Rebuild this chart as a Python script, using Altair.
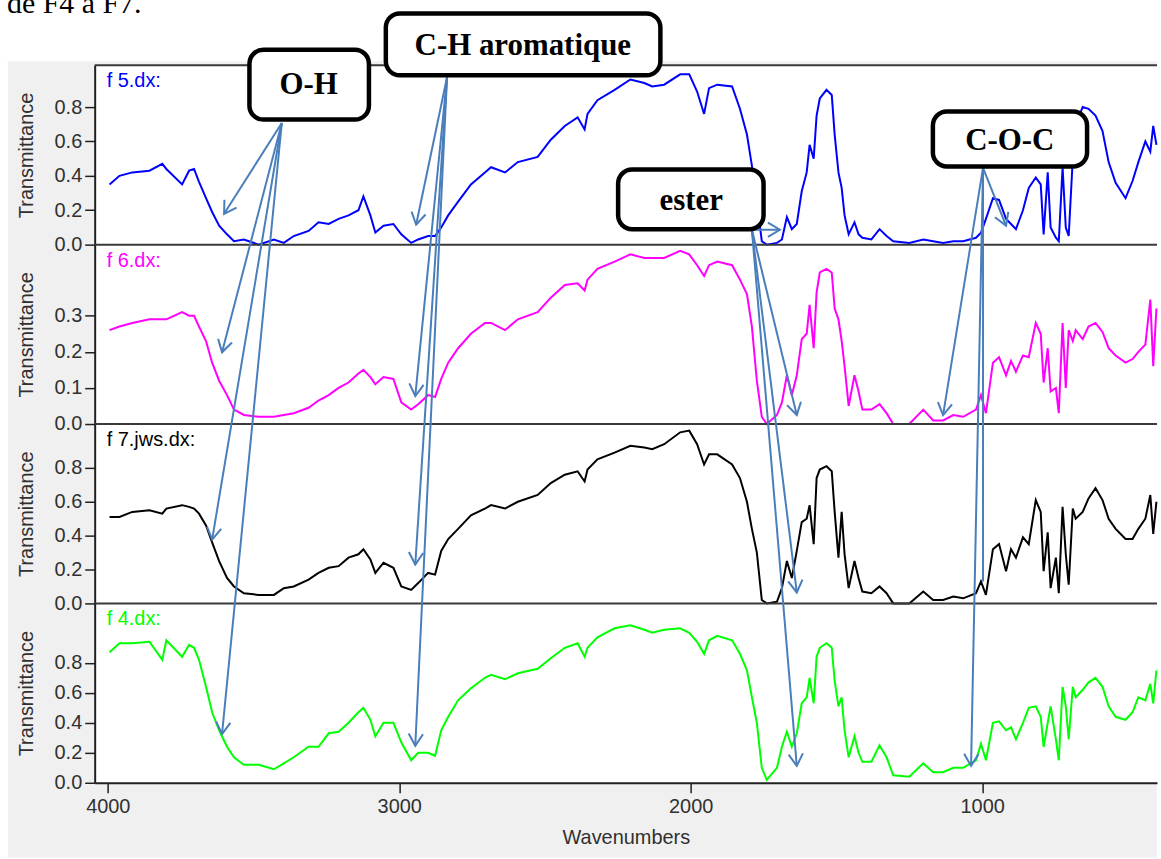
import math
import altair as alt
import pandas as pd

# ---------------- data ----------------
WAVENUMBER = [3994, 3960, 3916, 3857, 3813, 3799, 3745, 3721, 3704, 3687,
              3663, 3642, 3618, 3591, 3567, 3533, 3482, 3430, 3396, 3362,
              3311, 3277, 3242, 3208, 3174, 3140, 3123, 3099, 3082, 3054,
              3020, 2993, 2959, 2935, 2901, 2877, 2856, 2832, 2798, 2754,
              2706, 2685, 2637, 2593, 2525, 2480, 2432, 2388, 2364, 2354,
              2320, 2261, 2207, 2159, 2132, 2091, 2036, 2005, 1978, 1954,
              1937, 1909, 1858, 1831, 1807, 1790, 1773, 1756, 1739, 1704,
              1687, 1670, 1653, 1636, 1619, 1602, 1592, 1578, 1568, 1557,
              1534, 1516, 1506, 1493, 1482, 1472, 1458, 1438, 1424, 1411,
              1380, 1352, 1328, 1305, 1250, 1202, 1168, 1134, 1099, 1065,
              1021, 1004, 987, 963, 942, 918, 901, 884, 860, 840,
              816, 799, 789, 775, 765, 747, 737, 724, 713, 703,
              689, 679, 655, 635, 611, 587, 566, 542, 508, 484,
              464, 440, 423, 413, 402]

F5 = [0.35, 0.40, 0.42, 0.43, 0.47, 0.44, 0.35, 0.43, 0.44, 0.365,
      0.27, 0.19, 0.11, 0.06, 0.02, 0.03, 0.00, 0.03, 0.01, 0.05,
      0.08, 0.13, 0.12, 0.15, 0.17, 0.20, 0.28, 0.17, 0.07, 0.11,
      0.12, 0.06, 0.01, 0.03, 0.05, 0.05, 0.10, 0.17, 0.25, 0.35,
      0.42, 0.45, 0.42, 0.48, 0.51, 0.61, 0.69, 0.74, 0.67, 0.76,
      0.84, 0.90, 0.96, 0.94, 0.92, 0.93, 0.99, 0.99, 0.89, 0.76,
      0.91, 0.93, 0.92, 0.79, 0.64, 0.46, 0.25, 0.02, 0.00, 0.01,
      0.03, 0.16, 0.09, 0.12, 0.31, 0.42, 0.58, 0.50, 0.75, 0.85,
      0.90, 0.87, 0.64, 0.42, 0.33, 0.17, 0.06, 0.13, 0.06, 0.04,
      0.03, 0.09, 0.05, 0.02, 0.01, 0.03, 0.02, 0.01, 0.02, 0.02,
      0.04, 0.07, 0.15, 0.27, 0.26, 0.15, 0.12, 0.09, 0.20, 0.33,
      0.39, 0.35, 0.06, 0.42, 0.10, 0.04, 0.02, 0.45, 0.10, 0.05,
      0.50, 0.70, 0.80, 0.79, 0.75, 0.66, 0.48, 0.36, 0.27, 0.37,
      0.48, 0.60, 0.54, 0.69, 0.58]

F6 = [0.26, 0.27, 0.28, 0.29, 0.29, 0.29, 0.31, 0.30, 0.30, 0.27,
      0.23, 0.17, 0.12, 0.08, 0.04, 0.025, 0.02, 0.02, 0.025, 0.03,
      0.045, 0.065, 0.08, 0.10, 0.115, 0.14, 0.15, 0.13, 0.11, 0.13,
      0.125, 0.06, 0.04, 0.055, 0.08, 0.075, 0.125, 0.17, 0.21, 0.25,
      0.28, 0.28, 0.26, 0.29, 0.31, 0.35, 0.385, 0.39, 0.37, 0.40,
      0.43, 0.45, 0.47, 0.46, 0.46, 0.46, 0.48, 0.47, 0.44, 0.41,
      0.44, 0.45, 0.44, 0.40, 0.36, 0.27, 0.12, 0.02, 0.00, 0.025,
      0.06, 0.135, 0.08, 0.135, 0.235, 0.25, 0.33, 0.21, 0.365, 0.42,
      0.43, 0.42, 0.32, 0.29, 0.23, 0.16, 0.05, 0.135, 0.09, 0.04,
      0.04, 0.055, 0.03, 0.00, 0.00, 0.04, 0.01, 0.01, 0.025, 0.02,
      0.04, 0.08, 0.03, 0.17, 0.185, 0.135, 0.175, 0.145, 0.19, 0.185,
      0.28, 0.25, 0.115, 0.21, 0.09, 0.10, 0.03, 0.28, 0.10, 0.26,
      0.23, 0.26, 0.235, 0.27, 0.28, 0.255, 0.21, 0.19, 0.17, 0.18,
      0.20, 0.22, 0.345, 0.16, 0.32]

F7 = [0.51, 0.51, 0.54, 0.55, 0.53, 0.56, 0.58, 0.57, 0.56, 0.53,
      0.46, 0.36, 0.25, 0.15, 0.10, 0.06, 0.05, 0.05, 0.09, 0.10,
      0.14, 0.18, 0.21, 0.22, 0.27, 0.29, 0.32, 0.26, 0.18, 0.24,
      0.21, 0.10, 0.08, 0.12, 0.18, 0.17, 0.31, 0.38, 0.44, 0.52,
      0.56, 0.58, 0.56, 0.60, 0.64, 0.71, 0.76, 0.78, 0.72, 0.79,
      0.85, 0.89, 0.93, 0.92, 0.91, 0.94, 1.01, 1.02, 0.94, 0.82,
      0.88, 0.88, 0.82, 0.74, 0.60, 0.44, 0.30, 0.02, 0.00, 0.01,
      0.09, 0.25, 0.15, 0.31, 0.48, 0.50, 0.58, 0.35, 0.74, 0.79,
      0.81, 0.78, 0.54, 0.27, 0.54, 0.29, 0.09, 0.25, 0.15, 0.07,
      0.06, 0.10, 0.06, 0.00, 0.00, 0.07, 0.02, 0.02, 0.04, 0.03,
      0.06, 0.13, 0.05, 0.32, 0.35, 0.19, 0.32, 0.27, 0.39, 0.35,
      0.61, 0.54, 0.19, 0.42, 0.09, 0.27, 0.06, 0.57, 0.29, 0.11,
      0.56, 0.50, 0.54, 0.62, 0.68, 0.61, 0.50, 0.44, 0.38, 0.38,
      0.44, 0.50, 0.64, 0.41, 0.60]

F4 = [0.87, 0.93, 0.93, 0.94, 0.82, 0.95, 0.84, 0.92, 0.90, 0.82,
      0.64, 0.47, 0.35, 0.24, 0.17, 0.12, 0.12, 0.09, 0.13, 0.17,
      0.24, 0.24, 0.33, 0.34, 0.40, 0.47, 0.50, 0.42, 0.31, 0.40,
      0.40, 0.27, 0.15, 0.20, 0.20, 0.18, 0.35, 0.44, 0.55, 0.63,
      0.70, 0.72, 0.69, 0.73, 0.76, 0.83, 0.90, 0.93, 0.84, 0.90,
      0.97, 1.03, 1.05, 1.02, 1.00, 1.02, 1.03, 1.00, 0.94, 0.86,
      0.95, 0.98, 0.95, 0.86, 0.75, 0.57, 0.40, 0.10, 0.02, 0.10,
      0.24, 0.34, 0.24, 0.33, 0.53, 0.57, 0.70, 0.53, 0.84, 0.90,
      0.93, 0.90, 0.68, 0.51, 0.57, 0.35, 0.17, 0.31, 0.20, 0.14,
      0.14, 0.25, 0.17, 0.05, 0.04, 0.13, 0.07, 0.07, 0.10, 0.10,
      0.15, 0.26, 0.15, 0.40, 0.41, 0.35, 0.37, 0.29, 0.40, 0.50,
      0.51, 0.44, 0.24, 0.40, 0.51, 0.29, 0.15, 0.64, 0.51, 0.29,
      0.64, 0.57, 0.62, 0.67, 0.70, 0.64, 0.51, 0.44, 0.42, 0.47,
      0.57, 0.55, 0.66, 0.53, 0.75]

SERIES_VALUES = [F5, F6, F7, F4]
PANEL_NAMES = ["f 5.dx:", "f 6.dx:", "f 7.jws.dx:", "f 4.dx:"]
PANEL_COLORS = ["#0000ff", "#ff00ff", "#000000", "#00ff00"]
PANEL_YMAX = [1.043, 0.497, 1.059, 1.196]
PANEL_TICKS = [[0, 0.2, 0.4, 0.6, 0.8], [0, 0.1, 0.2, 0.3],
               [0, 0.2, 0.4, 0.6, 0.8], [0, 0.2, 0.4, 0.6, 0.8]]
X_TICKS = [4000, 3000, 2000, 1000]
CAPTION = "de F4 à F7."

# annotation boxes (wavenumber, position in panel-stack units: 0 = bottom of last panel, 4 = top of first)
BOX_LABELS = ["O-H", "C-H aromatique", "ester", "C-O-C"]
BOX_WN1 = [3514, 3046, 2249, 1169]
BOX_WN2 = [3104, 2104, 1750, 640]
BOX_S1 = [4.086, 4.289, 3.419, 3.742]
BOX_S2 = [3.697, 3.944, 3.086, 3.436]
LABEL_WN = [3311, 2576, 1998, 905]
LABEL_S = [3.889, 4.106, 3.244, 3.578]

ARROW_SRC_WN = [3403, 2836, 1790, 997]
ARROW_SRC_S = [3.678, 3.933, 3.083, 3.428]
ARROW_BOX = [0, 0, 0, 0, 1, 1, 1, 1, 2, 2, 2, 2, 3, 3, 3, 3]
ARROW_TO_WN = [3601, 3608, 3642, 3608, 2942, 2945, 2945, 2945,
               1694, 1636, 1636, 1636, 918, 1134, 997, 1038]
ARROW_TO_S = [3.172, 2.400, 1.356, 0.272, 3.111, 2.156, 1.217, 0.206,
              3.083, 2.050, 1.061, 0.094, 3.106, 2.050, 1.122, 0.094]
ARROW_HEAD = [1, 1, 1, 1, 1, 1, 1, 1, 1, 1, 1, 1, 1, 1, 0, 1]

# ---------------- layout / style ----------------
WN_LEFT, WN_RIGHT = 4045, 400
PLOT_W, PANEL_H = 1066, 180
AXIS_FONT = "Liberation Sans"
TEXT_COLOR = "#303030"
BORDER = "#3a3a3a"
GRAY = "#f0f0f0"
ARROW_COLOR = "#4a7ebb"
HEAD_PATH = "M -0.6 1 L 0 0 L 0.6 1"

xscale = alt.Scale(domain=[WN_LEFT, WN_RIGHT], nice=False, zero=False)
one = pd.DataFrame({"k": [0]})


def yscale(i):
    return alt.Scale(domain=[0, PANEL_YMAX[i]], nice=False, zero=False)


def yaxis(i):
    return alt.Axis(values=PANEL_TICKS[i], format=".1f", title="Transmittance",
                    titleFont=AXIS_FONT, titleFontSize=20, titleFontWeight="normal",
                    titleColor=TEXT_COLOR, titleX=-62, titleBaseline="alphabetic",
                    labelFont=AXIS_FONT, labelFontSize=20, labelColor=TEXT_COLOR,
                    labelPadding=3, labelFlush=False, labelOverlap=False,
                    tickSize=10, tickColor="#202020", tickWidth=1.5,
                    domainColor="#202020", domainWidth=2, grid=False, zindex=1)


xaxis = alt.Axis(values=X_TICKS, format="d", title="Wavenumbers",
                 titleFont=AXIS_FONT, titleFontSize=20, titleFontWeight="normal",
                 titleColor=TEXT_COLOR, titleY=61, titleBaseline="alphabetic",
                 labelFont=AXIS_FONT, labelFontSize=20, labelColor=TEXT_COLOR,
                 labelPadding=4, labelFlush=False, labelOverlap=False,
                 tickSize=10, tickColor="#202020", tickWidth=1.5,
                 domainColor="#202020", domainWidth=2, grid=False, zindex=1)

# annotation tables (expressed in units of the last panel's y scale)
S2T = PANEL_YMAX[3]
px_per_wn = PLOT_W / (WN_LEFT - WN_RIGHT)

arrows = pd.DataFrame({
    "wn": [ARROW_SRC_WN[b] for b in ARROW_BOX],
    "t": [ARROW_SRC_S[b] * S2T for b in ARROW_BOX],
    "wn2": ARROW_TO_WN,
    "t2": [s * S2T for s in ARROW_TO_S],
})
angles = []
for b, w1, s1 in zip(ARROW_BOX, ARROW_TO_WN, ARROW_TO_S):
    dx = (ARROW_SRC_WN[b] - w1) * px_per_wn
    dy = (ARROW_SRC_S[b] - s1) * PANEL_H
    angles.append(math.degrees(math.atan2(dx, -dy)) % 360)
heads = pd.DataFrame({"wn": ARROW_TO_WN, "t": [s * S2T for s in ARROW_TO_S],
                      "angle": angles, "show": ARROW_HEAD})
heads = heads[heads["show"] == 1]

boxes = pd.DataFrame({"wn": BOX_WN1, "wn2": BOX_WN2,
                      "t": [s * S2T for s in BOX_S1], "t2": [s * S2T for s in BOX_S2]})
labels = pd.DataFrame({"wn": LABEL_WN, "t": [s * S2T for s in LABEL_S], "label": BOX_LABELS})


def panel(i):
    df = pd.DataFrame({"wn": WAVENUMBER, "t": SERIES_VALUES[i]})
    x = alt.X("wn:Q", scale=xscale, axis=xaxis if i == 3 else None)
    y = alt.Y("t:Q", scale=yscale(i), axis=yaxis(i))
    layers = []
    if i == 0:
        layers += [
            alt.Chart(one).mark_rect(color=GRAY).encode(
                x=alt.value(-95), x2=alt.value(PLOT_W), y=alt.value(-84), y2=alt.value(795)),
            alt.Chart(one).mark_rect(color="white").encode(
                x=alt.value(-95), x2=alt.value(PLOT_W), y=alt.value(-84), y2=alt.value(-4)),
            alt.Chart(one).mark_rect(color="white").encode(
                x=alt.value(-95), x2=alt.value(-87), y=alt.value(-4), y2=alt.value(795)),
            alt.Chart(one).mark_rect(color="white").encode(
                x=alt.value(0), x2=alt.value(PLOT_W), y=alt.value(0), y2=alt.value(4 * PANEL_H)),
            alt.Chart(pd.DataFrame({"c": [CAPTION]})).mark_text(
                font="Liberation Serif", fontSize=30, align="left", baseline="alphabetic",
                color="black").encode(text="c:N", x=alt.value(-88), y=alt.value(-52)),
        ]
    line = alt.Chart(df).mark_line(color=PANEL_COLORS[i], strokeWidth=2).encode(x=x, y=y)
    top = alt.Chart(one).mark_rule(color=BORDER, strokeWidth=2).encode(
        x=alt.value(0), x2=alt.value(PLOT_W), y=alt.value(0))
    name = alt.Chart(pd.DataFrame({"n": [PANEL_NAMES[i]]})).mark_text(
        font=AXIS_FONT, fontSize=20, align="left", baseline="alphabetic",
        color=PANEL_COLORS[i]).encode(text="n:N", x=alt.value(12), y=alt.value(22))
    layers += [line, top, name]
    if i == 3:
        # same scales and axes as the spectrum so the shared axes merge cleanly
        ax = alt.X("wn:Q", scale=xscale, axis=xaxis)
        ay = alt.Y("t:Q", scale=yscale(3), axis=yaxis(3))
        layers += [
            alt.Chart(arrows).mark_rule(color=ARROW_COLOR, strokeWidth=2).encode(
                x=ax, y=ay, x2="wn2:Q", y2="t2:Q"),
            alt.Chart(heads).mark_point(shape=HEAD_PATH, filled=False, size=576,
                                        strokeWidth=2, color=ARROW_COLOR, opacity=1).encode(
                x=ax, y=ay, angle=alt.Angle("angle:Q", scale=None)),
            alt.Chart(boxes).mark_rect(fill="white", stroke="black", strokeWidth=4.5,
                                       cornerRadius=14).encode(
                x=ax, y=ay, x2="wn2:Q", y2="t2:Q"),
            alt.Chart(labels).mark_text(font="Liberation Serif", fontSize=31, fontWeight="bold",
                                        align="center", baseline="middle", color="black").encode(
                x=ax, y=ay, text="label:N"),
        ]
    return alt.layer(*layers).properties(width=PLOT_W, height=PANEL_H)


chart = alt.vconcat(*[panel(i) for i in range(4)], spacing=0, bounds="flush").properties(
    padding={"top": -20, "bottom": 0, "left": 0, "right": 0},
    background="white",
).configure_view(strokeWidth=0)

chart.save("out.html", embed_options={"renderer": "svg", "actions": False})
